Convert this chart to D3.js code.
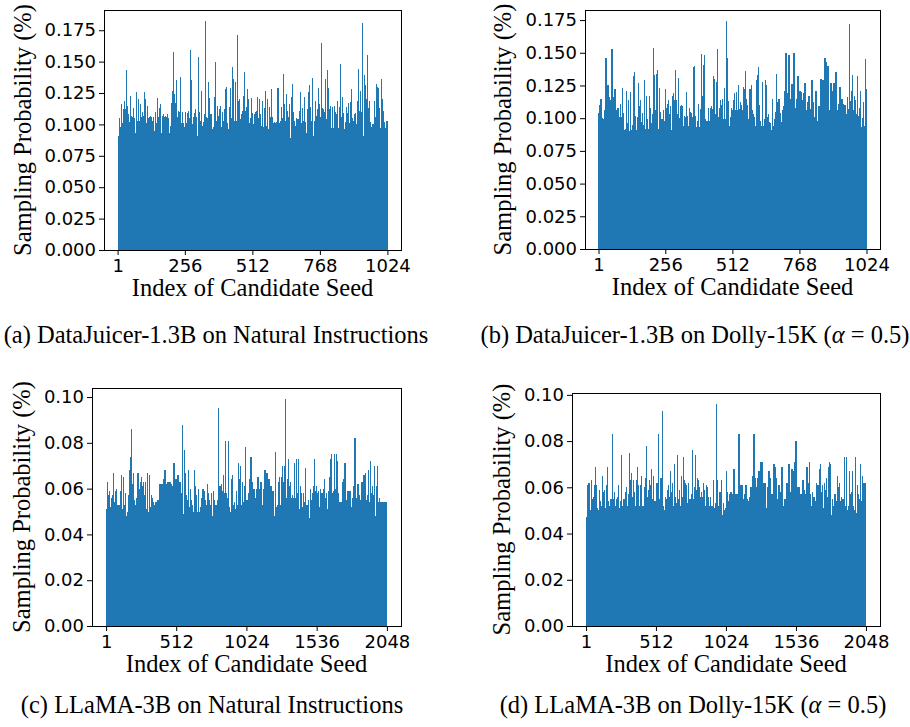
<!DOCTYPE html>
<html>
<head>
<meta charset="utf-8">
<script src="https://cdn.jsdelivr.net/npm/d3@7"></script>
<style>
  body { margin: 0; background: #fff; }
  svg { display: block; }
  .tick text { font-family: "DejaVu Sans", sans-serif; font-size: 18px; fill: #000; }
  .lbl { font-family: "Liberation Serif", "Times New Roman", serif; font-size: 24.5px; fill: #000; }
  .cap { font-family: "Liberation Serif", "Times New Roman", serif; font-size: 24.5px; fill: #000; }
</style>
</head>
<body>
<svg id="fig" width="910" height="727"></svg>
<script>
// sampling probabilities, in units of 0.001 %, one value per picture column
// (each column covers a run of consecutive seeds)
var probA = [91,105,98,116,101,112,119,112,143,115,108,102,123,107,106,113,105,93,126,103,120,103,116,106,110,107,126,120,101,115,105,106,107,106,103,106,95,110,101,121,106,113,116,93,107,108,106,107,106,108,105,93,99,117,127,158,124,117,135,106,111,110,138,101,110,101,98,110,101,109,111,105,159,135,100,106,109,112,106,91,154,110,103,127,99,102,108,182,106,105,134,121,108,108,96,98,122,150,103,115,107,112,115,98,110,103,112,128,130,101,96,114,129,105,146,136,103,134,103,171,119,120,104,108,111,123,142,111,114,128,120,101,105,121,109,100,108,
  110,111,122,105,120,108,99,119,98,113,127,99,120,96,114,106,128,106,101,102,101,102,129,129,101,103,114,105,140,116,103,124,111,106,116,89,122,132,110,103,99,105,104,104,111,126,101,113,103,122,102,93,112,126,131,114,103,137,91,103,119,107,112,129,116,106,165,113,112,110,136,104,143,129,112,115,97,114,97,115,110,108,119,97,114,148,106,122,109,96,102,114,109,117,101,118,128,105,103,108,109,100,119,144,111,127,110,181,91,139,131,120,155,113,119,102,98,100,100,119,106,132,130,129,113,97,136,120,111,102,97,103,103];

var probB = [104,110,115,100,92,99,106,146,112,125,116,114,113,153,116,99,122,105,106,108,101,111,101,123,104,91,92,121,96,114,90,120,91,95,132,135,102,91,101,127,109,114,97,104,95,129,92,117,99,92,117,108,96,103,154,133,106,134,137,92,123,105,99,99,106,98,122,108,111,114,103,109,91,117,119,114,137,114,103,131,100,109,110,109,94,102,101,120,102,94,108,105,104,101,139,140,102,93,98,111,93,107,149,117,141,148,99,98,98,108,98,108,109,107,132,130,103,128,153,101,108,114,110,115,99,123,99,174,146,113,94,101,108,106,114,119,
  106,120,106,125,107,112,110,106,124,122,136,115,110,99,122,122,125,106,103,101,94,129,133,139,110,98,94,128,94,99,129,125,101,103,97,96,91,115,94,99,105,134,112,115,104,97,93,106,109,121,150,93,119,148,101,115,126,116,150,98,108,115,132,114,121,120,105,114,119,127,98,106,112,117,107,106,129,112,101,93,121,96,98,109,106,130,106,129,100,146,143,110,140,104,106,127,120,121,127,104,135,106,89,111,124,104,115,111,108,110,103,116,107,172,113,121,133,106,117,114,103,132,102,108,121,93,100,112,94,145,122];

var probC = [51,63,57,59,52,56,57,67,54,59,60,53,53,53,59,66,51,65,53,58,48,50,57,68,74,86,62,67,55,53,56,67,67,60,63,65,61,63,57,63,51,67,50,66,52,57,56,54,53,54,50,54,55,52,62,54,62,59,64,68,55,62,63,58,63,62,61,59,71,55,64,62,66,56,63,51,58,88,49,77,67,57,55,68,52,60,55,53,50,68,61,57,50,60,50,52,56,60,60,59,55,53,62,58,55,53,58,48,59,55,53,53,55,95,61,61,62,59,66,58,81,58,56,81,52,50,64,66,53,54,51,59,53,71,64,70,53,63,54,61,78,55,55,
  52,58,64,74,63,54,60,56,56,60,65,56,60,63,49,53,60,68,56,67,58,64,58,61,59,59,58,48,76,52,53,63,65,53,65,70,63,70,99,56,64,73,61,63,56,57,56,71,56,73,58,73,51,61,58,52,58,54,69,53,53,55,47,60,55,58,61,73,59,61,58,59,52,60,58,58,60,64,56,58,51,59,65,73,75,58,59,75,60,75,72,58,54,50,54,54,63,64,71,55,50,59,58,59,52,51,56,61,82,56,56,62,57,55,55,63,52,66,63,67,55,57,68,54,72,58,61,57,70,48,61,70,54,56,54,54,54,54,54,54,54];

var probD = [47,61,62,62,50,63,55,56,61,69,61,51,50,59,54,52,65,58,59,51,61,69,54,52,55,55,83,55,58,52,55,56,61,51,54,74,52,55,55,58,60,52,57,75,63,66,56,63,58,52,63,69,61,52,61,65,52,52,60,64,78,56,59,63,61,68,55,65,54,54,62,62,83,55,64,64,93,52,50,56,55,59,61,56,67,58,62,52,70,56,53,74,55,59,52,65,56,73,63,62,61,53,62,55,55,57,76,55,60,74,59,64,63,60,56,58,56,62,59,52,61,60,56,52,56,52,52,63,51,53,96,63,52,58,58,63,48,53,50,51,67,58,54,53,
  57,58,48,57,68,57,51,57,53,83,61,48,61,55,55,57,61,55,54,53,56,60,52,65,83,64,60,60,64,67,56,71,71,57,62,62,51,47,60,67,64,56,57,51,70,69,64,51,55,61,58,56,69,52,50,55,52,62,59,70,56,58,68,63,67,71,80,56,60,60,57,57,54,63,59,57,57,69,57,62,71,57,52,58,56,56,54,62,61,61,68,70,58,61,51,62,59,64,56,69,71,70,48,55,52,57,57,54,65,60,62,54,56,55,55,73,52,73,50,52,67,57,58,67,52,50,73,49,61,57,55,70,54,65,62,62,62];

var unit = 0.001;

var seedsTop = 1024, seedsBottom = 2048;
var xTicksTop = [1, 256, 512, 768, 1024];
var xTicksBottom = [1, 512, 1024, 1536, 2048];
var yTicksTop = [0, 0.025, 0.05, 0.075, 0.1, 0.125, 0.15, 0.175];
var yTicksBottom = [0, 0.02, 0.04, 0.06, 0.08, 0.1];

var xTitle = "Index of Candidate Seed";
var yTitle = "Sampling Probability (%)";
var captions = [
  ["(a) DataJuicer-1.3B on Natural Instructions"],
  ["(b) DataJuicer-1.3B on Dolly-15K (", "α", " = 0.5)"],
  ["(c) LLaMA-3B on Natural Instructions"],
  ["(d) LLaMA-3B on Dolly-15K (", "α", " = 0.5)"]
];

var panels = [
  {vals: probA, seeds: seedsTop, xt: xTicksTop, yt: yTicksTop, fmt: ".3f", l: 104, r: 401, t: 10, b: 250, ylx: 31, cx: 216, cy: 343},
  {vals: probB, seeds: seedsTop, xt: xTicksTop, yt: yTicksTop, fmt: ".3f", l: 585, r: 880, t: 10, b: 249, ylx: 511, cx: 695, cy: 343},
  {vals: probC, seeds: seedsBottom, xt: xTicksBottom, yt: yTicksBottom, fmt: ".2f", l: 92, r: 401, t: 388, b: 626, ylx: 30, cx: 212, cy: 713},
  {vals: probD, seeds: seedsBottom, xt: xTicksBottom, yt: yTicksBottom, fmt: ".2f", l: 572, r: 880, t: 393, b: 626, ylx: 510, cx: 693, cy: 713}
];

var svg = d3.select("#fig");

panels.forEach(function (p, i) {
  var data = p.vals.map(function (v) { return v * unit; });
  var lo = 0.6, hi = p.seeds + 0.4, pad = (hi - lo) * 0.05;

  var x = d3.scaleLinear().domain([lo - pad, hi + pad]).range([p.l, p.r]);
  var y = d3.scaleLinear().domain([0, d3.max(data) * 1.05]).range([p.b, p.t]);
  var step = (hi - lo) / data.length;

  var g = svg.append("g");

  // bars
  g.append("g").selectAll("rect")
    .data(data)
    .enter().append("rect")
    .attr("x", function (d, k) { return x(lo + k * step); })
    .attr("width", function (d, k) { return x(lo + (k + 1) * step) - x(lo + k * step) + 0.3; })
    .attr("y", function (d) { return y(d); })
    .attr("height", function (d) { return p.b - y(d); })
    .attr("fill", "#1f77b4")
    .attr("shape-rendering", "crispEdges");

  // axes
  var axB = d3.axisBottom(x).tickValues(p.xt).tickSize(5).tickPadding(4).tickFormat(d3.format("d"));
  g.append("g").attr("transform", "translate(0," + p.b + ")").call(axB)
    .call(function (s) { s.select(".domain").remove(); });

  var axL = d3.axisLeft(y).tickValues(p.yt).tickSize(5).tickPadding(3).tickFormat(d3.format(p.fmt));
  g.append("g").attr("transform", "translate(" + p.l + ",0)").call(axL)
    .call(function (s) { s.select(".domain").remove(); });

  g.selectAll(".tick line").attr("stroke", "#000").attr("stroke-width", 1);

  // frame
  g.append("rect")
    .attr("x", p.l + 0.5).attr("y", p.t + 0.5)
    .attr("width", p.r - p.l).attr("height", p.b - p.t)
    .attr("fill", "none").attr("stroke", "#000").attr("stroke-width", 1);

  // titles
  g.append("text").attr("class", "lbl")
    .attr("x", (p.l + p.r) / 2).attr("y", p.b + 46)
    .attr("text-anchor", "middle").text(xTitle);

  g.append("text").attr("class", "lbl")
    .attr("transform", "translate(" + p.ylx + "," + (p.t + p.b) / 2 + ") rotate(-90)")
    .attr("text-anchor", "middle").text(yTitle);

  var cap = g.append("text").attr("class", "cap")
    .attr("x", p.cx).attr("y", p.cy).attr("text-anchor", "middle");
  captions[i].forEach(function (part, j) {
    var ts = cap.append("tspan").text(part);
    if (j === 1) ts.attr("font-style", "italic");
  });
});
</script>
</body>
</html>
